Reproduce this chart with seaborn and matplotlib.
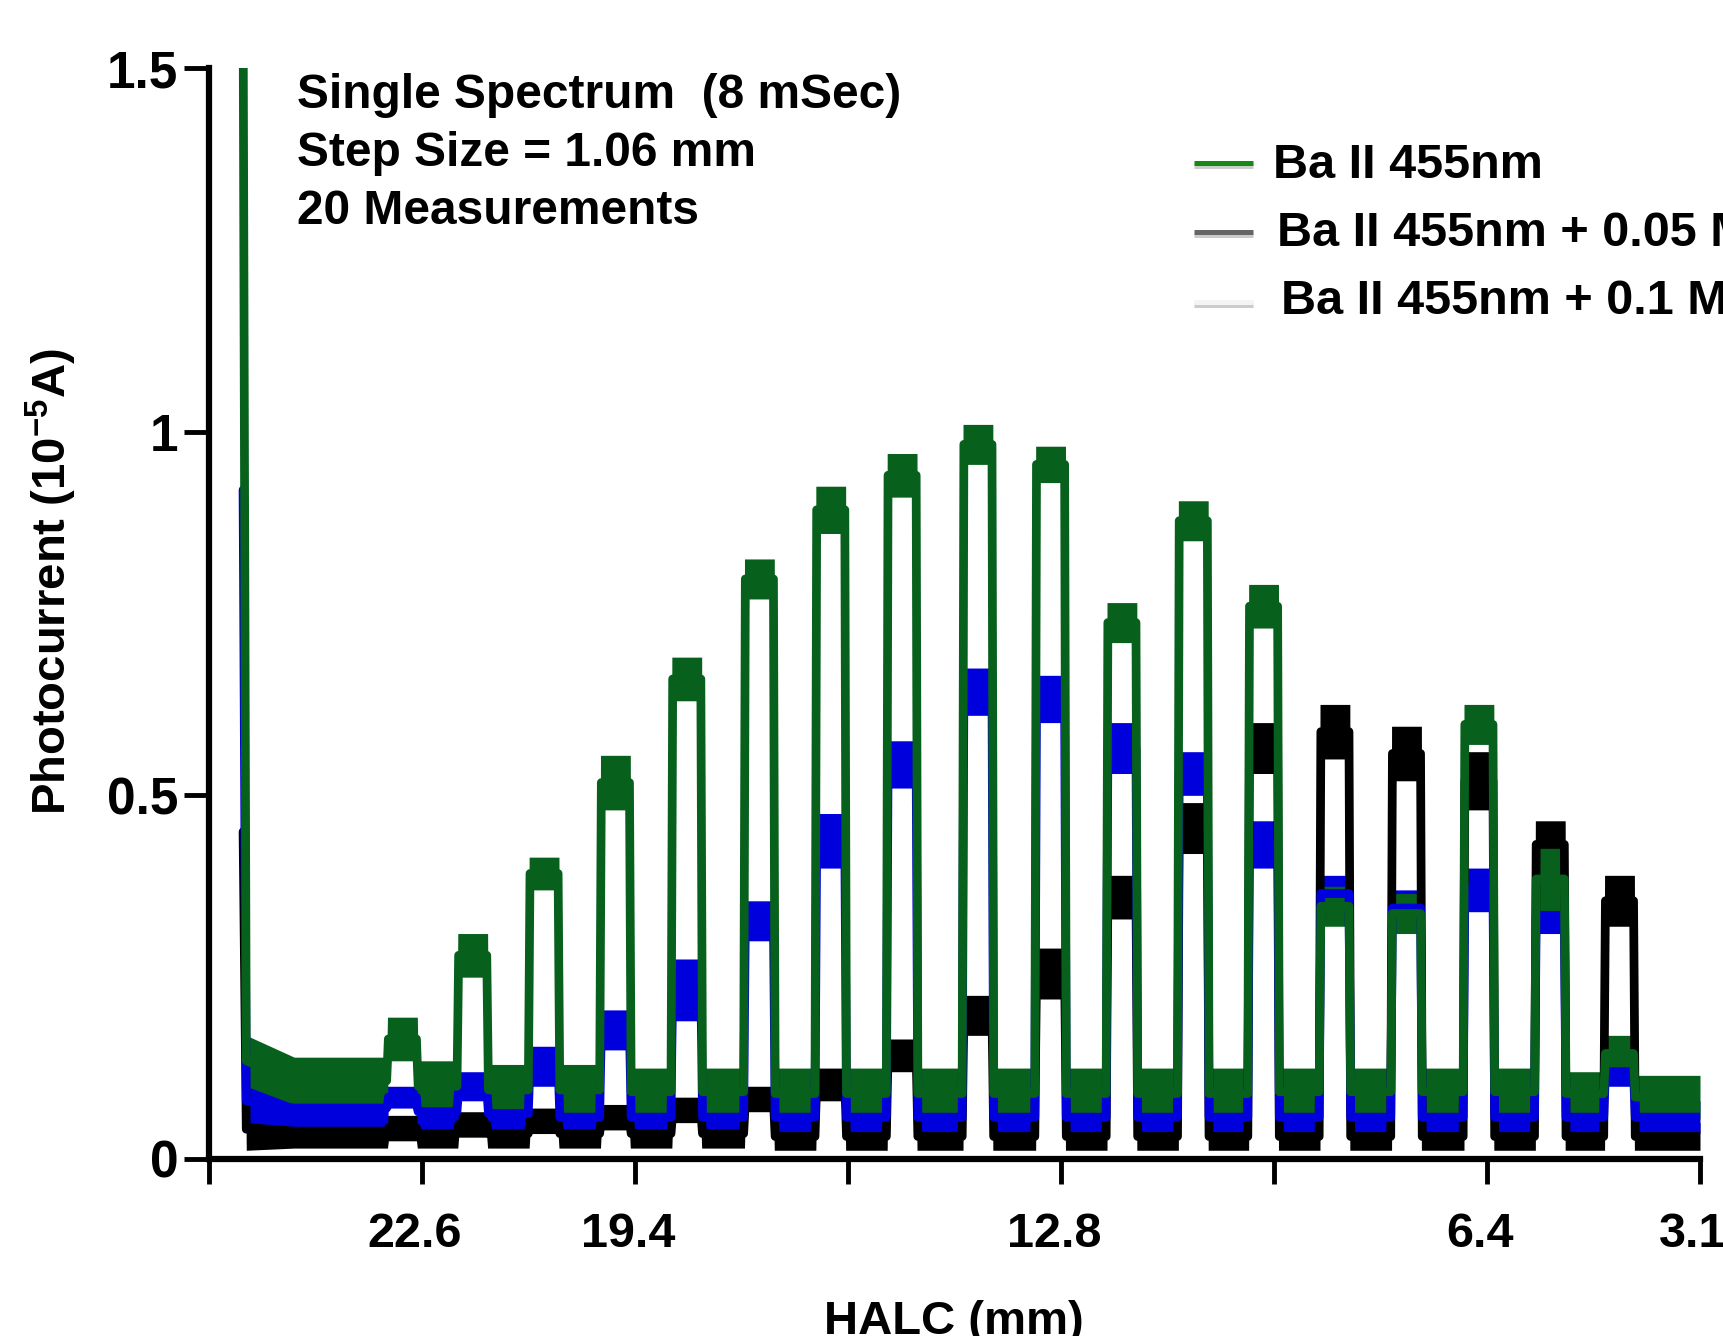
import matplotlib
matplotlib.use("Agg")
import numpy as np
import pandas as pd
import matplotlib.pyplot as plt
import seaborn as sns
from matplotlib.lines import Line2D
import matplotlib.patheffects as pe
import matplotlib.transforms as mtransforms

# ---------------- data ----------------
# x positions are in tick units: tick i sits at i (0..7)
tick_pos = [0, 1, 2, 3, 4, 5, 6, 7]
tick_labels = ["", "22.6", "19.4", "", "12.8", "", "6.4", "3.1"]
y_ticks = [0, 0.5, 1, 1.5]
y_tick_labels = ["0", "0.5", "1", "1.5"]

pulse_center = [0.908, 1.238, 1.573, 1.908, 2.243, 2.584, 2.919, 3.254, 3.610,
                3.951, 4.286, 4.621, 4.951, 5.286, 5.622, 5.962, 6.297, 6.622]

# plateau band (bottom, top) of each pulse
green_bot = [0.135, 0.25, 0.37, 0.48, 0.63, 0.77, 0.86, 0.91, 0.955, 0.93, 0.71, 0.85, 0.73, 0.32, 0.31, 0.57, 0.34, 0.12]
green_top = [0.195, 0.31, 0.415, 0.555, 0.69, 0.825, 0.925, 0.97, 1.01, 0.98, 0.765, 0.905, 0.79, 0.375, 0.365, 0.625, 0.43, 0.17]
blue_bot = [0.07, 0.08, 0.10, 0.15, 0.19, 0.30, 0.40, 0.51, 0.61, 0.60, 0.53, 0.50, 0.40, 0.34, 0.32, 0.34, 0.31, 0.10]
blue_top = [0.10, 0.12, 0.155, 0.205, 0.275, 0.355, 0.475, 0.575, 0.675, 0.665, 0.60, 0.56, 0.465, 0.39, 0.37, 0.40, 0.36, 0.14]
black_bot = [0.025, 0.030, 0.035, 0.040, 0.050, 0.065, 0.08, 0.12, 0.17, 0.22, 0.33, 0.42, 0.53, 0.55, 0.52, 0.48, 0.40, 0.32]
black_top = [0.060, 0.065, 0.070, 0.075, 0.085, 0.100, 0.125, 0.165, 0.225, 0.29, 0.39, 0.49, 0.60, 0.625, 0.595, 0.56, 0.465, 0.39]

# baseline band in the 19 gaps (before pulse 1, between pulses, after pulse 18)
green_base_bot = [0.075, 0.065, 0.06, 0.06, 0.06, 0.06, 0.055, 0.055, 0.055, 0.055, 0.055, 0.055, 0.055, 0.06, 0.06, 0.06, 0.06, 0.06, 0.055]
green_base_top = [0.14, 0.135, 0.13, 0.13, 0.125, 0.125, 0.125, 0.125, 0.125, 0.125, 0.125, 0.125, 0.125, 0.125, 0.125, 0.125, 0.125, 0.12, 0.115]
blue_base_bot = [0.045, 0.04, 0.04, 0.035, 0.035, 0.035, 0.035, 0.035, 0.035, 0.035, 0.035, 0.035, 0.035, 0.035, 0.035, 0.035, 0.035, 0.035, 0.035]
blue_base_top = [0.095, 0.09, 0.085, 0.08, 0.08, 0.08, 0.08, 0.08, 0.08, 0.08, 0.08, 0.08, 0.08, 0.08, 0.08, 0.08, 0.08, 0.08, 0.08]
black_base_bot = [0.015, 0.015, 0.015, 0.015, 0.015, 0.015, 0.012, 0.012, 0.012, 0.012, 0.012, 0.012, 0.012, 0.012, 0.012, 0.012, 0.012, 0.012, 0.012]
black_base_top = [0.060, 0.055, 0.055, 0.055, 0.055, 0.055, 0.05, 0.05, 0.05, 0.05, 0.05, 0.05, 0.05, 0.05, 0.05, 0.05, 0.05, 0.05, 0.05]

# initial spike and the band just after it
spike_x = 0.16
green_spike, blue_spike, black_spike = 1.60, 0.92, 0.45
green_post = (0.10, 0.17)
blue_post = (0.05, 0.11)
black_post = (0.012, 0.07)

series_names = ["Ba II 455nm + 0.1 M", "Ba II 455nm + 0.05 M", "Ba II 455nm"]
trace_colors = ["#000000", "#0000DC", "#07601B"]
legend_colors = ["#138A13", "#666666", "#F4F4F4"]


def build_trace(name, bot, top, bbot, btop, spike, post):
    xs, ys = [], []

    def add(x, lo, hi):
        xs.extend([x, x]); ys.extend([lo, hi])

    add(spike_x, spike, spike)
    add(spike_x + 0.015, post[0], post[1])
    add(0.40, bbot[0], btop[0])
    for k, c in enumerate(pulse_center):
        add(c - 0.074, bbot[k], btop[k])
        add(c - 0.070, bbot[k], top[k])
        add(c - 0.066, bot[k], top[k])
        add(c + 0.066, bot[k], top[k])
        add(c + 0.070, bbot[k + 1], top[k])
        add(c + 0.074, bbot[k + 1], btop[k + 1])
    add(7.0, bbot[-1], btop[-1])
    return pd.DataFrame({"x": xs, "y": ys, "series": name})


df_black = build_trace(series_names[0], black_bot, black_top, black_base_bot, black_base_top, black_spike, black_post)
df_blue = build_trace(series_names[1], blue_bot, blue_top, blue_base_bot, blue_base_top, blue_spike, blue_post)
df_green = build_trace(series_names[2], green_bot, green_top, green_base_bot, green_base_top, green_spike, green_post)

# ---------------- style ----------------
sns.set_theme(style="ticks")
plt.rcParams['font.family'] = ['Liberation Sans', 'DejaVu Sans']
plt.rcParams['font.weight'] = 'bold'
plt.rcParams['text.color'] = 'black'
plt.rcParams['axes.labelcolor'] = 'black'
plt.rcParams['xtick.color'] = 'black'
plt.rcParams['ytick.color'] = 'black'
plt.rcParams['mathtext.fontset'] = 'custom'
plt.rcParams['mathtext.rm'] = 'Liberation Sans:bold'
plt.rcParams['mathtext.it'] = 'Liberation Sans:bold'
plt.rcParams['mathtext.bf'] = 'Liberation Sans:bold'
plt.rcParams['mathtext.default'] = 'rm'

W, H = 1723, 1336
fig = plt.figure(figsize=(W / 100, H / 100), dpi=100)
ax = fig.add_axes([209 / W, 1 - 1159 / H, (1700 - 209) / W, (1159 - 68) / H])

for d, col in zip([df_black, df_blue, df_green], trace_colors):
    sns.lineplot(data=d, x="x", y="y", estimator="mean", errorbar=("pi", 100),
                 color=col, linewidth=6.3, solid_joinstyle="round",
                 err_kws={"alpha": 1, "linewidth": 0},
                 ax=ax, legend=False)

ax.set_xlim(0, 7)
ax.set_ylim(0, 1.5)
ax.set_xticks(tick_pos)
ax.set_xticklabels(tick_labels)
ax.set_yticks(y_ticks)
ax.set_yticklabels(y_tick_labels)
ax.set_xlabel("")
ax.set_ylabel("")
sns.despine(ax=ax)
for s in ["left", "bottom"]:
    ax.spines[s].set_linewidth(4.5)
    ax.spines[s].set_color("black")
ax.tick_params(axis="both", direction="out", length=18, width=3.5, color="black",
               labelcolor="black")
ax.tick_params(axis="x", pad=20, labelsize=35)
ax.tick_params(axis="y", pad=4, labelsize=37)
shift = mtransforms.ScaledTranslation(-7 / 100, 0, fig.dpi_scale_trans)
for lab in ax.get_xticklabels():
    lab.set_fontweight("bold")
    lab.set_transform(lab.get_transform() + shift)
for lab in ax.get_yticklabels():
    lab.set_fontweight("bold")

# axis titles
fig.text(51 / W, 1 - 582 / H, r"Photocurrent (10$^{-5}$A)", rotation=90,
         ha="center", va="center", fontsize=34, fontweight="bold", color="black")
fig.text(954 / W, 1 - 1300 / H, "HALC (mm)", ha="center", va="top",
         fontsize=34, fontweight="bold", color="black")

# annotation block
for txt, yc in zip(["Single Spectrum  (8 mSec)", "Step Size = 1.06 mm", "20 Measurements"],
                   [96, 154, 212]):
    fig.text(297 / W, 1 - yc / H, txt, ha="left", va="center", fontsize=34.5,
             fontweight="bold", color="black")

# legend (handles drawn with shadows, labels clipped by figure edge)
leg_labels = ["Ba II 455nm", "Ba II 455nm + 0.05 M", "Ba II 455nm + 0.1 M"]
handle_y = [163, 232, 302]
text_y = [166, 234, 302]
text_x = [1273, 1277, 1281]
for lab, col, hy, ty, tx in zip(leg_labels, legend_colors, handle_y, text_y, text_x):
    ln = Line2D([1194 / W, 1253 / W], [1 - hy / H, 1 - hy / H], transform=fig.transFigure,
                color=col, linewidth=3.6, solid_capstyle="butt",
                path_effects=[pe.SimpleLineShadow(offset=(0, -2.5), shadow_color="#999999", alpha=0.5),
                              pe.Normal()])
    fig.add_artist(ln)
    fig.text(tx / W, 1 - ty / H, lab, ha="left", va="center", fontsize=35,
             fontweight="bold", color="black")

fig.savefig("out.png", dpi=100)
